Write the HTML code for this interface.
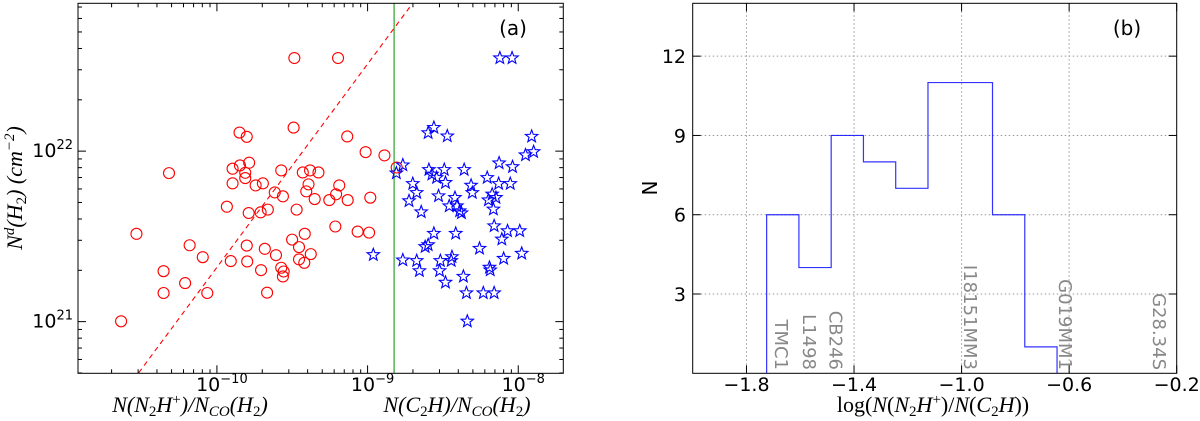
<!DOCTYPE html>
<html><head><meta charset="utf-8"><style>
html,body{margin:0;padding:0;background:#fff;}
svg{display:block;font-family:"DejaVu Sans","Liberation Sans",sans-serif;}
.math{font-family:"Liberation Serif","DejaVu Serif",serif;font-style:italic;}
</style></head><body>
<svg id="chart" width="1200" height="421" viewBox="0 0 1200 421" xmlns="http://www.w3.org/2000/svg">
<g id="pa"></g>
<g id="pb"></g>
</svg>
<script>
// ---- Panel (a) data: log10 values ----
const circleLogX = [-10.636,-10.534,-10.354,-10.354,-10.318,-10.211,-10.181,-10.094,-10.064,-9.934,-9.908,-9.896,-9.896,-9.850,-9.847,-9.812,-9.812,-9.802,-9.802,-9.799,-9.786,-9.789,-9.743,-9.707,-9.710,-9.695,-9.682,-9.667,-9.662,-9.616,-9.608,-9.573,-9.573,-9.562,-9.562,-9.557,-9.501,-9.491,-9.486,-9.471,-9.455,-9.455,-9.430,-9.417,-9.420,-9.407,-9.392,-9.382,-9.377,-9.351,-9.326,-9.254,-9.214,-9.209,-9.196,-9.188,-9.135,-9.132,-9.066,-9.013,-8.990,-8.982,-8.888,-8.807];
const circleLogY = [21.002,21.515,21.296,21.168,21.871,21.226,21.448,21.378,21.168,21.674,21.355,21.897,21.811,22.109,21.916,21.873,21.842,22.084,21.446,21.353,21.932,21.637,21.799,21.302,21.641,21.811,21.427,21.170,21.657,21.758,21.390,21.887,21.316,21.735,21.265,21.294,21.481,22.138,22.546,21.657,21.437,21.365,21.875,21.515,21.345,21.764,21.805,21.887,21.396,21.719,21.875,21.713,21.558,21.747,22.546,21.799,22.086,21.713,21.528,21.994,21.522,21.727,21.975,21.904];
const starLogX = [-8.962,-8.809,-8.766,-8.766,-8.725,-8.700,-8.674,-8.674,-8.656,-8.644,-8.618,-8.598,-8.598,-8.560,-8.560,-8.593,-8.573,-8.542,-8.529,-8.522,-8.517,-8.491,-8.483,-8.483,-8.471,-8.458,-8.445,-8.440,-8.420,-8.415,-8.407,-8.389,-8.377,-8.364,-8.359,-8.344,-8.338,-8.313,-8.305,-8.257,-8.232,-8.206,-8.198,-8.191,-8.186,-8.173,-8.165,-8.160,-8.160,-8.148,-8.130,-8.122,-8.127,-8.109,-8.097,-8.071,-8.041,-8.038,-8.053,-7.990,-7.977,-7.952,-7.911,-7.898];
const starLogY = [21.392,21.871,21.918,21.361,21.708,21.809,21.756,21.357,21.298,21.643,21.439,21.450,22.107,22.138,21.517,21.891,21.864,21.844,21.737,21.298,21.357,21.891,21.815,21.230,22.088,21.678,21.357,21.380,21.727,21.517,21.678,21.649,21.637,21.265,21.891,21.168,21.002,21.799,21.756,21.429,21.168,21.844,21.713,21.318,21.302,21.747,21.659,21.168,21.561,21.727,21.809,22.546,21.930,21.483,21.370,21.532,22.546,21.908,21.809,21.532,21.400,21.977,22.086,21.996];
const fitLineLogX = [-10.519,-8.707];
const fitLineLogY = [20.70,22.86];
const splitLogX = [-8.824];
const xDecadesA = [-10,-9,-8];
const yDecadesA = [21,22];
// ---- Panel (b) data ----
const binEdges = [-1.725,-1.605,-1.485,-1.365,-1.245,-1.125,-1.005,-0.885,-0.765,-0.645];
const binCounts = [6,4,9,8,7,11,11,6,1];
const xTicksB = [-1.8,-1.4,-1.0,-0.6,-0.2];
const xTickLabelsB = ["\u22121.8","\u22121.4","\u22121.0","\u22120.6","\u22120.2"];
const yTicksB = [3,6,9,12];
const sourceNames = ["TMC1","L1498","CB246","I18151MM3","G019MM1","G28.34S"];
const sourceX = [-1.667,-1.564,-1.466,-0.965,-0.612,-0.262];

const NS="http://www.w3.org/2000/svg";
function mk(parent,tag,attrs,text){const e=document.createElementNS(NS,tag);for(const k in attrs)e.setAttribute(k,attrs[k]);if(text!==undefined)e.textContent=text;parent.appendChild(e);return e;}

// ---------- Panel A ----------
const pa=document.getElementById('pa');
const A={l:78,r:563.3,t:3.3,b:373.3,xmin:-10.922,xmax:-7.701,ymin:20.697,ymax:22.867};
const ax=v=>A.l+(v-A.xmin)/(A.xmax-A.xmin)*(A.r-A.l);
const ay=v=>A.b-(v-A.ymin)/(A.ymax-A.ymin)*(A.b-A.t);
const defs=mk(pa,'defs',{});
const cp=mk(defs,'clipPath',{id:'clipA'});
mk(cp,'rect',{x:A.l,y:A.t,width:A.r-A.l,height:A.b-A.t});
const dataG=mk(pa,'g',{'clip-path':'url(#clipA)'});


const fl=mk(dataG,'line',{x1:ax(fitLineLogX[0]),y1:ay(fitLineLogY[0]),x2:ax(fitLineLogX[1]),y2:ay(fitLineLogY[1]),stroke:'#ff0000','stroke-width':1.1,'stroke-dasharray':'5,4'});


const gl=mk(dataG,'line',{x1:ax(splitLogX[0]),y1:A.t,x2:ax(splitLogX[0]),y2:A.b,stroke:'#2ca02c','stroke-width':1.2});


for(let i=0;i<circleLogX.length;i++){
  const c=mk(dataG,'circle',{cx:ax(circleLogX[i]),cy:ay(circleLogY[i]),r:5.5,fill:'none',stroke:'#ff0000','stroke-width':1.1});
  
  
}
function starPts(cx,cy,R){const r=R*0.42;let p=[];for(let k=0;k<10;k++){const a=-Math.PI/2+k*Math.PI/5;const rr=k%2?r:R;p.push((cx+rr*Math.cos(a)).toFixed(2)+','+(cy+rr*Math.sin(a)).toFixed(2));}return p.join(' ');}
for(let i=0;i<starLogX.length;i++){
  const s=mk(dataG,'polygon',{points:starPts(ax(starLogX[i]),ay(starLogY[i]),6.5),fill:'none',stroke:'#0000ff','stroke-width':1.1});
  
  
}
const fa=mk(pa,'rect',{x:A.l,y:A.t,width:A.r-A.l,height:A.b-A.t,fill:'none',stroke:'#000','stroke-width':1});


for(let d=-11;d<=-8;d++){
  for(let m=1;m<=9;m++){
    const v=d+Math.log10(m); if(v<A.xmin||v>A.xmax) continue;
    const L=m===1?8:4; const x=ax(v);
    mk(pa,'line',{x1:x,y1:A.b,x2:x,y2:A.b-L,stroke:'#000','stroke-width':1});
    mk(pa,'line',{x1:x,y1:A.t,x2:x,y2:A.t+L,stroke:'#000','stroke-width':1});
  }
}
for(let d=20;d<=22;d++){
  for(let m=1;m<=9;m++){
    const v=d+Math.log10(m); if(v<A.ymin||v>A.ymax) continue;
    const L=m===1?8:4; const y=ay(v);
    mk(pa,'line',{x1:A.l,y1:y,x2:A.l+L,y2:y,stroke:'#000','stroke-width':1});
    mk(pa,'line',{x1:A.r,y1:y,x2:A.r-L,y2:y,stroke:'#000','stroke-width':1});
  }
}
xDecadesA.forEach(d=>{
  const t=mk(pa,'text',{x:ax(d)+5,y:391,'text-anchor':'middle','font-size':19});
  
  
  mk(t,'tspan',{},'10');
  mk(t,'tspan',{'font-size':13,dy:-8},String(d).replace('-','\u2212'));
});
yDecadesA.forEach(d=>{
  const t=mk(pa,'text',{x:73,y:ay(d)+6,'text-anchor':'end','font-size':19});
  
  
  mk(t,'tspan',{},'10');
  mk(t,'tspan',{'font-size':13,dy:-8},String(d));
});
</script>
<script>
(function(){
const pa=document.getElementById('pa');
pa.insertAdjacentHTML('beforeend',
'<text class="math" x="190" y="412" text-anchor="middle" font-size="22">N(N<tspan font-style="normal" font-size="15" dy="4">2</tspan><tspan dy="-4">H</tspan><tspan font-style="normal" font-size="15" dy="-8">+</tspan><tspan dy="8">)/N</tspan><tspan font-size="15" dy="4">CO</tspan><tspan dy="-4">(H</tspan><tspan font-style="normal" font-size="15" dy="4">2</tspan><tspan dy="-4">)</tspan></text>'+
'<text class="math" x="457" y="412" text-anchor="middle" font-size="22">N(C<tspan font-style="normal" font-size="15" dy="4">2</tspan><tspan dy="-4">H)/N</tspan><tspan font-size="15" dy="4">CO</tspan><tspan dy="-4">(H</tspan><tspan font-style="normal" font-size="15" dy="4">2</tspan><tspan dy="-4">)</tspan></text>'+
'<text class="math" transform="translate(22,188) rotate(-90)" text-anchor="middle" font-size="22">N<tspan font-size="15" dy="-8">d</tspan><tspan dy="8">(H</tspan><tspan font-style="normal" font-size="15" dy="4">2</tspan><tspan dy="-4">) (cm</tspan><tspan font-size="15" dy="-8">\u22122</tspan><tspan dy="8">)</tspan></text>'+
'<text x="513" y="35" text-anchor="middle" font-size="20">(a)</text>');
})();
</script>
<script>
(function(){
const pb=document.getElementById('pb');
const B={l:692.7,r:1176.7,t:3.3,b:373.3,xmin:-2.0,xmax:-0.2,ymin:0,ymax:14};
const bx=v=>B.l+(v-B.xmin)/(B.xmax-B.xmin)*(B.r-B.l);
const by=v=>B.b-(v-B.ymin)/(B.ymax-B.ymin)*(B.b-B.t);
xTicksB.forEach(v=>{ if(v>B.xmin&&v<B.xmax){
  const g=mk(pb,'line',{x1:bx(v),y1:B.t,x2:bx(v),y2:B.b,stroke:'#999','stroke-width':1,'stroke-dasharray':'1.5,2.5'});
  
  
}});
yTicksB.forEach(v=>{
  const g=mk(pb,'line',{x1:B.l,y1:by(v),x2:B.r,y2:by(v),stroke:'#999','stroke-width':1,'stroke-dasharray':'1.5,2.5'});
  
  
});
let d='M'+bx(binEdges[0])+','+by(0);
for(let i=0;i<binCounts.length;i++){
  d+=' L'+bx(binEdges[i])+','+by(binCounts[i])+' L'+bx(binEdges[i+1])+','+by(binCounts[i]);
}
d+=' L'+bx(binEdges[binCounts.length])+','+by(0);
const h=mk(pb,'path',{d:d,fill:'none',stroke:'#0000ff','stroke-width':1.2,'stroke-opacity':0.8});


for(let i=0;i<sourceNames.length;i++){
  const t=mk(pb,'text',{transform:'translate('+(bx(sourceX[i])-7)+',370) rotate(90)','text-anchor':'end','font-size':18,fill:'#888'},sourceNames[i]);
  
  
}
const f=mk(pb,'rect',{x:B.l,y:B.t,width:B.r-B.l,height:B.b-B.t,fill:'none',stroke:'#000','stroke-width':1});


xTicksB.forEach((v,i)=>{
  const x=bx(v);
  mk(pb,'line',{x1:x,y1:B.b,x2:x,y2:B.b-8,stroke:'#000'});
  mk(pb,'line',{x1:x,y1:B.t,x2:x,y2:B.t+8,stroke:'#000'});
  const t=mk(pb,'text',{x:x,y:391,'text-anchor':'middle','font-size':19},xTickLabelsB[i]);
  
  
});
yTicksB.forEach(v=>{
  const y=by(v);
  mk(pb,'line',{x1:B.l,y1:y,x2:B.l+8,y2:y,stroke:'#000'});
  mk(pb,'line',{x1:B.r,y1:y,x2:B.r-8,y2:y,stroke:'#000'});
  const t=mk(pb,'text',{x:686,y:y+7,'text-anchor':'end','font-size':19},String(v));
  
  
});
pb.insertAdjacentHTML('beforeend',
'<text x="933" y="412" text-anchor="middle" font-size="22" font-family="Liberation Serif, serif">log(<tspan font-style="italic">N</tspan>(<tspan font-style="italic">N</tspan><tspan font-size="15" dy="4">2</tspan><tspan dy="-4" font-style="italic">H</tspan><tspan font-size="15" dy="-8">+</tspan><tspan dy="8">)/</tspan><tspan font-style="italic">N</tspan>(<tspan font-style="italic">C</tspan><tspan font-size="15" dy="4">2</tspan><tspan dy="-4" font-style="italic">H</tspan>))</text>'+
'<text transform="translate(657,188) rotate(-90)" text-anchor="middle" font-size="20">N</text>'+
'<text x="1127" y="35" text-anchor="middle" font-size="20">(b)</text>');
})();
</script>
</body></html>
